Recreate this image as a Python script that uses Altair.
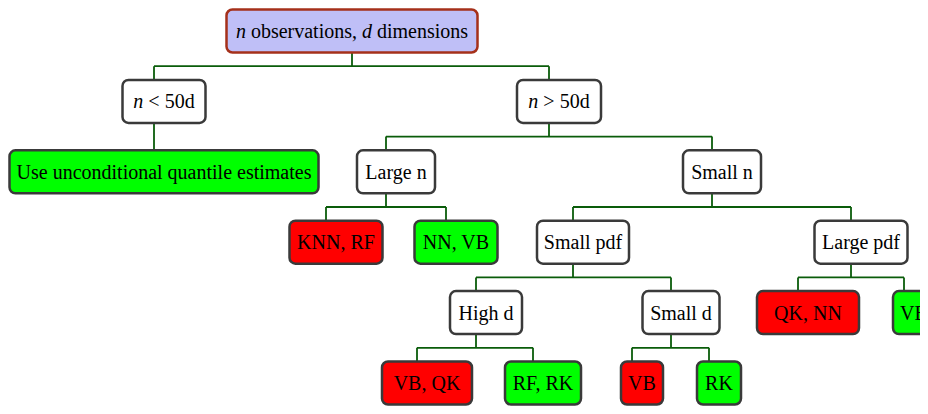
import altair as alt
import pandas as pd

# ---- tree data ----
# each label is a list of runs: (text, italic)
labels = [[("n", True), (" observations, ", False), ("d", True), (" dimensions", False)],
          [("n", True), (" < 50d", False)],
          [("n", True), (" > 50d", False)],
          [("Use unconditional quantile estimates", False)],
          [("Large n", False)], [("Small n", False)],
          [("KNN, RF", False)], [("NN, VB", False)],
          [("Small pdf", False)], [("Large pdf", False)],
          [("High d", False)], [("Small d", False)],
          [("QK, NN", False)], [("VB", False)],
          [("VB, QK", False)], [("RF, RK", False)],
          [("VB", False)], [("RK", False)]]
parents = [-1, 0, 0, 1, 2, 2, 4, 4, 5, 5, 8, 8, 9, 9, 10, 10, 11, 11]
levels = [0, 1, 1, 2, 2, 2, 3, 3, 3, 3, 4, 4, 4, 4, 5, 5, 5, 5]
anchor_x = [352, 154, 549, 154, 386, 712, 326, 446, 573, 851,
            476, 671, 798, 904, 417, 533, 632, 709]
box_w = [251, 83, 84, 309, 78, 78, 93, 83, 92, 93,
         72, 77, 102, 42, 90, 76, 42, 44]
kinds = ["root", "decision", "decision", "good", "decision", "decision",
         "bad", "good", "decision", "decision",
         "decision", "decision", "bad", "good",
         "bad", "good", "bad", "good"]

BOX_SHIFT = 10  # boxes sit slightly right of their connector lines
FONT_SIZE = 20

# Times-compatible advance widths (1/1000 em) for laying out mixed runs
TIMES = {" ": 250, "o": 500, "b": 500, "s": 389, "e": 444, "r": 333, "v": 500,
         "a": 444, "t": 278, "i": 278, "n": 500, ",": 250, "d": 500, "m": 778,
         "<": 564, ">": 564, "5": 500, "0": 500}


def text_w(s):
    return sum(TIMES.get(c, 500) for c in s) / 1000 * FONT_SIZE


nodes = pd.DataFrame({"level": levels, "x": anchor_x, "w": box_w, "kind": kinds})
nodes["shift"] = [0 if k == "root" else BOX_SHIFT for k in kinds]
nodes["cx"] = nodes["x"] + nodes["shift"]
nodes["left"] = nodes["cx"] - nodes["w"] / 2
nodes["right"] = nodes["cx"] + nodes["w"] / 2

single, mixed = [], []
for i, parts in enumerate(labels):
    if len(parts) == 1:
        single.append(dict(text=parts[0][0], x=nodes.loc[i, "cx"], level=levels[i]))
        continue
    total = sum(text_w(t) for t, _ in parts)
    pos = nodes.loc[i, "cx"] - total / 2
    for t, it in parts:
        lead = len(t) - len(t.lstrip(" "))
        mixed.append(dict(text=t.strip(" "), x=pos + text_w(" " * lead),
                          level=levels[i], italic=it))
        pos += text_w(t)
single = pd.DataFrame(single)
mixed = pd.DataFrame(mixed)

# connector segments
segs = []
for p in range(len(labels)):
    kids = [i for i, q in enumerate(parents) if q == p]
    if not kids:
        continue
    L = levels[p]
    if len(kids) == 1:
        segs.append(dict(x=anchor_x[p], x2=anchor_x[p], y=L, y2=L + 1))
        continue
    segs.append(dict(x=anchor_x[p], x2=anchor_x[p], y=L, y2=L + 0.5))
    xs = [anchor_x[k] for k in kids]
    segs.append(dict(x=min(xs), x2=max(xs), y=L + 0.5, y2=L + 0.5))
    for k in kids:
        segs.append(dict(x=anchor_x[k], x2=anchor_x[k], y=L + 0.5, y2=L + 1))
edges = pd.DataFrame(segs)

W, H = 912, 398
xs = alt.Scale(domain=[8, 8 + W], range=[0, W], nice=False, zero=False)
ys = alt.Scale(domain=[0, 5], range=[23, H - 23], nice=False, zero=False)


def X(f):
    return alt.X(f, type="quantitative", scale=xs, axis=None)


def Y(f):
    return alt.Y(f, type="quantitative", scale=ys, axis=None)


lines = alt.Chart(edges).mark_rule(color="#0a5c0a", strokeWidth=1.8).encode(
    x=X("x"), x2="x2", y=Y("y"), y2="y2")

dom = ["root", "decision", "good", "bad"]
box_color = alt.Fill("kind:N", legend=None,
                     scale=alt.Scale(domain=dom,
                                     range=["#bfbff7", "#ffffff", "#00ff00", "#ff0000"]))
stroke_color = alt.Stroke("kind:N", legend=None,
                          scale=alt.Scale(domain=dom,
                                          range=["#a5301a", "#3a3a3a", "#3a3a3a", "#3a3a3a"]))

boxes = alt.Chart(nodes).mark_rect(
    cornerRadius=6, strokeWidth=2.5, yOffset=-21.5, y2Offset=21.5,
    opacity=1, fillOpacity=1, clip=True
).encode(x=X("left"), x2="right", y=Y("level"), y2="level",
         fill=box_color, stroke=stroke_color)

txt = dict(font="Liberation Serif", fontSize=FONT_SIZE, color="black",
           baseline="middle", dy=1, clip=True)

texts_single = alt.Chart(single).mark_text(align="center", **txt).encode(
    x=X("x"), y=Y("level"), text="text:N")

mixed_base = alt.Chart(mixed).encode(x=X("x"), y=Y("level"), text="text:N")
texts_normal = mixed_base.transform_filter("!datum.italic").mark_text(
    align="left", **txt)
texts_italic = mixed_base.transform_filter("datum.italic").mark_text(
    align="left", fontStyle="italic", **txt)

chart = (lines + boxes + texts_single + texts_normal + texts_italic).properties(
    width=W, height=H, padding=0, autosize=alt.AutoSizeParams(type="none")
).configure_view(stroke=None)

chart.save("out.html", embed_options={"renderer": "svg", "actions": False})
